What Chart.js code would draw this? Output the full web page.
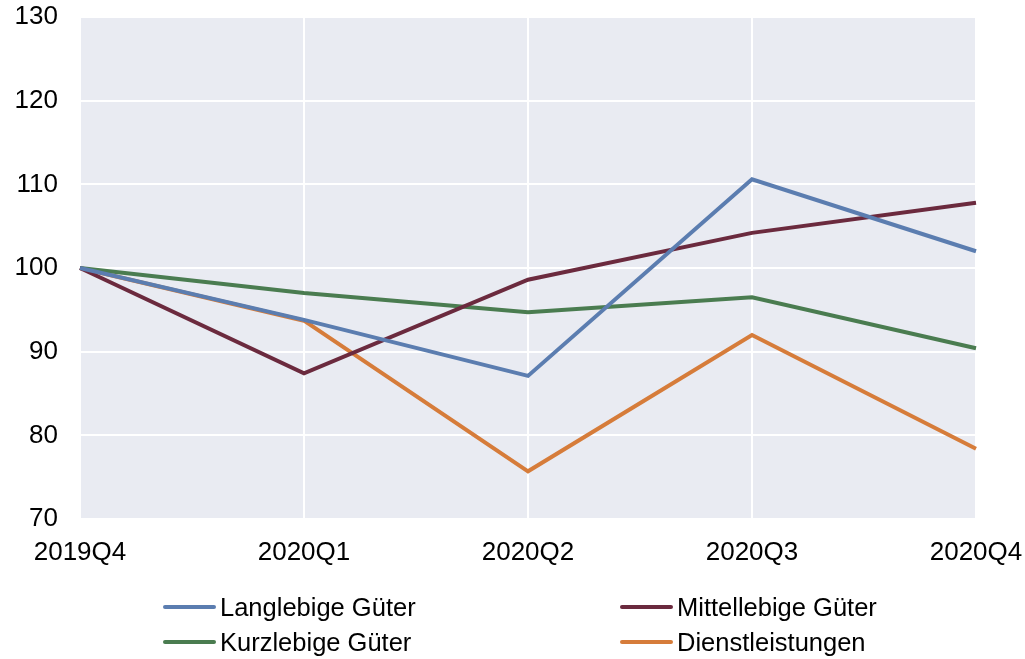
<!DOCTYPE html>
<html>
<head>
<meta charset="utf-8">
<script src="https://cdn.jsdelivr.net/npm/chart.js@4"></script>
<style>
  html, body { margin: 0; padding: 0; background: #fff; }
  #wrap { position: relative; width: 1025px; height: 659px; }
  #c { position: absolute; left: 0; top: 0; }
  .leg { position: absolute; font-family: "Liberation Sans", Arial, sans-serif; font-size: 25.5px; color: #000; display: flex; align-items: center; white-space: nowrap; }
  .leg span.ln { display: inline-block; width: 53px; height: 4px; border-radius: 2px; margin-right: 4px; }
</style>
</head>
<body>
<div id="wrap">
  <canvas id="c" width="1025" height="659"></canvas>
  <div id="legend"></div>
</div>
<script>
const categories = ["2019Q4", "2020Q1", "2020Q2", "2020Q3", "2020Q4"];
const langlebige = [100, 93.8, 87.1, 110.6, 102.0];
const mittellebige = [100, 87.4, 98.6, 104.2, 107.8];
const kurzlebige = [100, 97.0, 94.7, 96.5, 90.4];
const dienstleistungen = [100, 93.7, 75.7, 92.0, 78.4];
const seriesNames = ["Langlebige Güter", "Mittellebige Güter", "Kurzlebige Güter", "Dienstleistungen"];
const seriesColors = ["#5b7db0", "#6b2a3e", "#4a7c50", "#d67c3a"];
const yMin = 70, yMax = 130, yStep = 10;

const seriesData = [langlebige, mittellebige, kurzlebige, dienstleistungen];

const bgPlugin = {
  id: 'plotBg',
  beforeDraw(chart) {
    const a = chart.chartArea, ctx = chart.ctx;
    ctx.save();
    ctx.fillStyle = '#e9ebf2';
    ctx.fillRect(a.left, a.top, a.right - a.left, a.bottom - a.top);
    ctx.restore();
  }
};

const tickFont = { family: '"Liberation Sans", Arial, sans-serif', size: 26 };

const chart = new Chart(document.getElementById('c'), {
  type: 'line',
  data: {
    labels: categories,
    datasets: seriesData.map((d, i) => ({
      label: seriesNames[i],
      data: d,
      borderColor: seriesColors[i],
      backgroundColor: seriesColors[i],
      borderWidth: 4,
      pointRadius: 0,
      tension: 0,
      fill: false
    }))
  },
  options: {
    responsive: false,
    animation: false,
    layout: { padding: { top: 17, right: 49, bottom: 88, left: 0 } },
    plugins: { legend: { display: false }, tooltip: { enabled: false } },
    scales: {
      x: {
        offset: false,
        grid: { color: '#ffffff', lineWidth: 2, drawTicks: false },
        border: { display: false },
        ticks: { color: '#000', font: tickFont, padding: 18, maxRotation: 0, autoSkip: false },
        afterFit(s) { s.height = 52; s.paddingLeft = 0; s.paddingRight = 0; }
      },
      y: {
        min: yMin, max: yMax,
        grid: { color: '#ffffff', lineWidth: 2, drawTicks: false },
        border: { display: false },
        ticks: { stepSize: yStep, color: '#000', font: tickFont, padding: 22 },
        afterFit(s) { s.width = 80; s.paddingTop = 0; s.paddingBottom = 0; }
      }
    }
  },
  plugins: [bgPlugin]
});

// HTML legend built from chart datasets (2 columns)
const legPos = [[163, 607], [620, 607], [163, 642], [620, 642]];
const legend = document.getElementById('legend');
chart.data.datasets.forEach((ds, i) => {
  const el = document.createElement('div');
  el.className = 'leg';
  el.style.left = legPos[i][0] + 'px';
  el.style.top = (legPos[i][1] - 15) + 'px';
  el.style.height = '30px';
  el.innerHTML = '<span class="ln" style="background:' + ds.borderColor + '"></span>' + ds.label;
  legend.appendChild(el);
});
</script>
</body>
</html>
